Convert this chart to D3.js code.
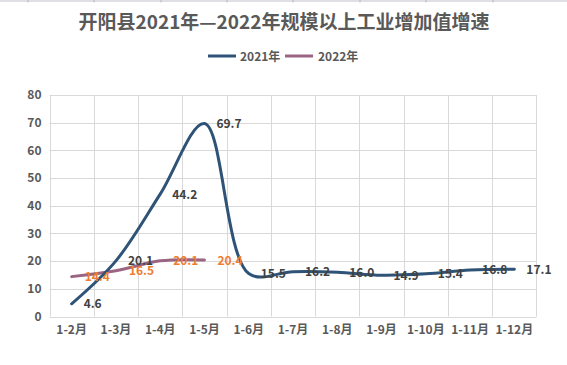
<!DOCTYPE html>
<html><head><meta charset="utf-8">
<script src="https://cdn.jsdelivr.net/npm/d3@7"></script>
<style>body{margin:0;background:#fff;} svg{display:block;}</style>
</head><body>
<svg id="c" width="567" height="365"></svg>
<script>
const categories = ["1-2月","1-3月","1-4月","1-5月","1-6月","1-7月","1-8月","1-9月","1-10月","1-11月","1-12月"];
const values2021 = [4.6, 20.1, 44.2, 69.7, 15.5, 16.2, 16.0, 14.9, 15.4, 16.8, 17.1];
const values2022 = [14.4, 16.5, 20.1, 20.4];
const yTicks = [0,10,20,30,40,50,60,70,80];
const seriesNames = ["2021年","2022年"];

const font = "'Noto Sans CJK SC','Microsoft YaHei',sans-serif";
const svg = d3.select("#c");
const L = 49.5, R = 536.5, T = 95, B = 316.5;
const x = d3.scaleBand().domain(categories).range([L, R]);
const y = d3.scaleLinear().domain([0, 80]).range([B, T]);
const cx = d => x(d) + x.bandwidth()/2;

// top faint sheet line with small marks
svg.append("line").attr("x1",0).attr("x2",567).attr("y1",1).attr("y2",1).attr("stroke","#d4d4dc").attr("stroke-width",1.5);
[28,94,161,227,293,360,426,493].forEach(t => {
  svg.append("line").attr("x1",t).attr("x2",t).attr("y1",0).attr("y2",2.5).attr("stroke","#b8b8cc");
});

// title
svg.append("text").attr("x", 284).attr("y", 29).attr("text-anchor","middle")
  .attr("font-family", font).attr("font-weight","bold").attr("font-size", 19).attr("fill","#595959")
  .text("开阳县2021年—2022年规模以上工业增加值增速");

// grid
const g = svg.append("g");
yTicks.forEach(t => {
  g.append("line").attr("x1",L).attr("x2",R).attr("y1",Math.round(y(t))+0.5).attr("y2",Math.round(y(t))+0.5)
    .attr("stroke","#d9d9d9").attr("stroke-width",1);
});
categories.forEach(c => {
  const xx = Math.round(x(c))+0.5;
  g.append("line").attr("x1",xx).attr("x2",xx).attr("y1",T).attr("y2",B).attr("stroke","#d9d9d9");
});
g.append("line").attr("x1",R).attr("x2",R).attr("y1",T).attr("y2",B).attr("stroke","#d9d9d9");

// axes labels
const yAxis = d3.axisLeft(y).tickValues(yTicks).tickSize(0).tickPadding(8);
svg.append("g").attr("transform",`translate(${L},0)`).call(yAxis)
  .call(s => s.select(".domain").remove())
  .selectAll("text").attr("font-family",font).attr("font-weight","bold").attr("font-size",12).attr("fill","#595959");
const xAxis = d3.axisBottom(x).tickSize(0).tickPadding(9);
svg.append("g").attr("transform",`translate(0,${B})`).call(xAxis)
  .call(s => s.select(".domain").remove())
  .selectAll("text").attr("font-family",font).attr("font-weight","bold").attr("font-size",12).attr("fill","#595959");

const c2021 = "#2f5377", c2022 = "#9b6482";
const line = d3.line().x((d,i)=>cx(categories[i])).y(d=>y(d)).curve(d3.curveCatmullRom.alpha(0.5));

svg.append("path").datum(values2022).attr("d", line).attr("fill","none").attr("stroke",c2022).attr("stroke-width",3).attr("stroke-linecap","round");
svg.append("path").datum(values2021).attr("d", line).attr("fill","none").attr("stroke",c2021).attr("stroke-width",3).attr("stroke-linecap","round");

// labels
svg.append("g").selectAll("text").data(values2021).join("text")
  .attr("x",(d,i)=>cx(categories[i])+12).attr("y",d=>y(d)+4.5)
  .attr("font-family",font).attr("font-weight","bold").attr("font-size",12).attr("fill","#404040")
  .text(d=>d.toFixed(1));
svg.append("g").selectAll("text").data(values2022).join("text")
  .attr("x",(d,i)=>cx(categories[i])+13).attr("y",d=>y(d)+4.5)
  .attr("font-family",font).attr("font-weight","bold").attr("font-size",12).attr("fill","#ed7d31")
  .text(d=>d.toFixed(1));

// legend
const leg = svg.append("g");
[[c2021, 208, 240],[c2022, 285, 318]].forEach((e,i) => {
  leg.append("line").attr("x1",e[1]).attr("x2",e[1]+28).attr("y1",56).attr("y2",56).attr("stroke",e[0]).attr("stroke-width",3);
  leg.append("text").attr("x",e[2]).attr("y",60.5).attr("font-family",font).attr("font-weight","bold").attr("font-size",12).attr("fill","#595959").text(seriesNames[i]);
});
</script>
</body></html>
